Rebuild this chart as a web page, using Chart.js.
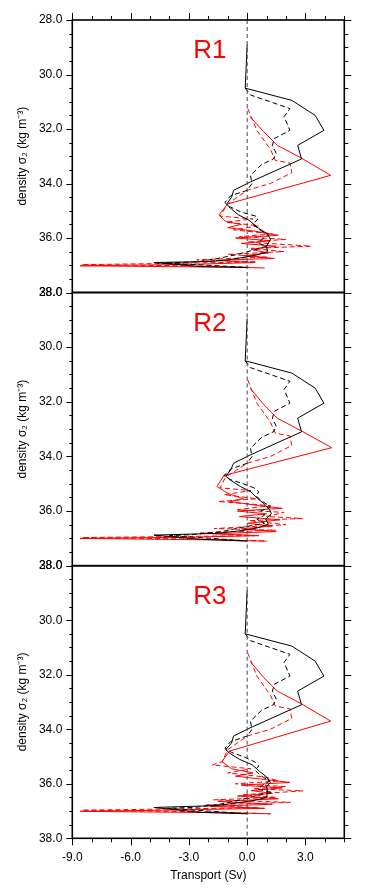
<!DOCTYPE html>
<html><head><meta charset="utf-8">
<script src="https://cdn.jsdelivr.net/npm/chart.js@4"></script>
<style>
html,body{margin:0;padding:0;background:#fff;}
#wrap{position:relative;width:365px;height:895px;overflow:hidden;}
canvas{position:absolute;left:0;top:0;}
</style></head><body>
<div id="wrap">
<canvas id="c1" width="365" height="895"></canvas>
<canvas id="c2" width="365" height="895"></canvas>
<canvas id="c3" width="365" height="895"></canvas>
</div>
<script>
// ---------- data ----------
const panelNames = ['R1', 'R2', 'R3'];
const xTickValues = [-9, -6, -3, 0, 3];
const yTickValues = [28, 30, 32, 34, 36, 38];
const zeroLineSigma = [28, 38];
const zeroLineSv = [0, 0];

// R1
const r1BlackSolidSigma = [28.9, 30.5, 30.95, 31.5, 32.05, 32.6, 33.1, 33.95, 34.25, 34.5, 34.75, 34.85, 35.15, 35.35, 35.65, 35.85, 36.05, 36.3, 36.5, 36.62, 36.7, 36.8, 36.86, 36.9, 37.05, 37.08];
const r1BlackSolidSv    = [0.0, -0.1, 2.3, 3.5, 3.95, 2.6, 2.8, 0.15, -0.7, -0.8, -1.05, -0.95, -0.45, 0.1, 0.6, 1.05, 1.2, 1.0, 1.05, 0.5, -0.1, -0.95, -1.8, -4.8, -2.4, 0.0];
const r1BlackDashSigma  = [30.5, 30.75, 31.25, 31.55, 32.05, 32.35, 32.6, 32.9, 33.1, 33.3, 33.7, 34.0, 34.25, 34.45, 34.7, 34.85, 35.05, 35.2, 35.3, 35.5, 35.7, 35.9, 36.05, 36.2, 36.3, 36.45, 36.6, 36.75, 36.88, 36.92, 37.0, 37.08];
const r1BlackDashSv     = [-0.1, 0.17, 2.2, 1.9, 2.2, 1.4, 1.3, 1.5, 1.35, 0.75, 0.17, 0.25, 0.0, -0.85, -1.15, -0.9, -0.3, 0.45, 0.55, 0.3, 0.65, 1.1, 0.75, 0.6, 1.0, 0.3, -0.5, -1.5, -2.6, -4.2, -2.0, 0.0];
const r1RedSolidSigma   = [31.55, 32.1, 32.6, 33.05, 33.7, 34.75, 35.15, 35.4, 35.5, 35.62, 35.75, 35.9, 36.0, 36.1, 36.2, 36.3, 36.42, 36.55, 36.65, 36.75, 36.82, 36.9, 36.97, 37.02, 37.07, 37.1];
const r1RedSolidSv      = [0.15, 0.85, 1.55, 2.75, 4.3, -1.0, -1.45, -1.1, -0.3, -1.0, 0.4, 1.6, -0.6, 1.2, -0.3, 1.5, 0.2, 1.1, -0.2, 1.4, -1.6, 0.4, -3.0, -8.6, -1.0, 0.9];
const r1RedDashSigma    = [31.25, 32.05, 32.75, 33.15, 33.25, 33.6, 34.0, 34.25, 34.75, 35.2, 35.3, 35.42, 35.55, 35.7, 35.85, 35.95, 36.05, 36.15, 36.3, 36.38, 36.5, 36.6, 36.7, 36.8, 36.88, 36.98, 37.03, 37.08];
const r1RedDashSv       = [0.03, 0.5, 1.2, 1.45, 2.2, 2.3, 1.2, 0.0, -1.0, -1.4, 0.3, -1.1, 0.6, -0.7, 1.3, -0.4, 2.0, 0.0, 3.3, 0.2, 1.9, -1.0, 1.0, -2.6, 0.5, -8.5, -2.0, 0.3];

// R2
const r2BlackSolidSigma = [28.95, 30.5, 30.95, 31.5, 32.05, 32.6, 33.1, 33.95, 34.25, 34.5, 34.72, 34.85, 35.1, 35.3, 35.55, 35.75, 35.95, 36.1, 36.3, 36.48, 36.62, 36.72, 36.82, 36.88, 37.03, 37.1];
const r2BlackSolidSv    = [0.0, -0.1, 2.3, 3.5, 3.95, 2.6, 2.8, 0.15, -0.7, -0.85, -1.1, -0.9, -0.35, 0.2, 0.55, 0.9, 1.15, 1.25, 0.95, 1.1, 0.5, -0.3, -1.7, -4.8, -2.5, 0.0];
const r2BlackDashSigma  = [30.5, 30.75, 31.25, 31.55, 32.05, 32.35, 32.6, 32.9, 33.1, 33.3, 33.7, 34.0, 34.25, 34.45, 34.7, 34.85, 35.0, 35.15, 35.3, 35.45, 35.65, 35.85, 36.0, 36.15, 36.3, 36.45, 36.6, 36.75, 36.86, 36.9, 37.0, 37.1];
const r2BlackDashSv     = [-0.1, 0.17, 2.2, 1.9, 2.2, 1.4, 1.3, 1.5, 1.35, 0.75, 0.17, 0.25, 0.0, -0.8, -1.2, -0.85, -0.2, 0.35, 0.6, 0.45, 0.8, 1.2, 0.7, 0.9, 0.5, 0.9, -0.3, -1.3, -2.8, -4.0, -1.8, 0.0];
const r2RedSolidSigma   = [31.5, 32.1, 32.6, 33.05, 33.68, 34.7, 35.1, 35.35, 35.55, 35.65, 35.8, 35.9, 36.0, 36.1, 36.2, 36.32, 36.45, 36.55, 36.65, 36.75, 36.83, 36.9, 36.96, 37.0, 37.06, 37.1];
const r2RedSolidSv      = [0.15, 0.85, 1.55, 2.75, 4.35, -1.2, -1.55, -1.0, -0.2, -0.9, 0.6, 1.8, -0.5, 1.0, -0.4, 1.7, 0.0, 1.3, -0.3, 1.5, -1.8, 0.6, -3.2, -8.6, -1.2, 1.0];
const r2RedDashSigma    = [31.2, 32.05, 32.75, 33.15, 33.25, 33.6, 34.0, 34.25, 34.75, 35.15, 35.25, 35.4, 35.55, 35.65, 35.8, 35.95, 36.05, 36.2, 36.27, 36.35, 36.5, 36.64, 36.7, 36.8, 36.9, 36.97, 37.03, 37.1];
const r2RedDashSv       = [0.03, 0.5, 1.2, 1.45, 2.2, 2.3, 1.2, 0.0, -1.1, -1.4, 0.2, -1.2, 0.5, -1.5, 1.2, -0.5, 1.9, 1.0, 2.85, 0.1, 2.0, -1.7, 1.46, -2.4, 0.4, -8.5, -2.2, 0.95];

// R3
const r3BlackSolidSigma = [28.9, 30.5, 30.95, 31.5, 32.05, 32.6, 33.1, 33.95, 34.25, 34.5, 34.75, 34.88, 35.1, 35.3, 35.55, 35.75, 35.95, 36.1, 36.3, 36.5, 36.62, 36.7, 36.8, 36.87, 37.05, 37.1];
const r3BlackSolidSv    = [0.0, -0.1, 2.3, 3.5, 3.95, 2.6, 2.8, 0.15, -0.7, -0.8, -1.1, -0.9, -0.4, 0.25, 0.65, 1.0, 1.2, 1.0, 1.05, 1.0, 0.3, -0.5, -1.6, -4.8, -2.4, 0.0];
const r3BlackDashSigma  = [30.5, 30.75, 31.25, 31.55, 32.05, 32.35, 32.6, 32.9, 33.1, 33.3, 33.7, 34.0, 34.25, 34.45, 34.7, 34.85, 35.0, 35.2, 35.35, 35.5, 35.7, 35.9, 36.05, 36.2, 36.32, 36.45, 36.6, 36.75, 36.86, 36.9, 37.0, 37.1];
const r3BlackDashSv     = [-0.1, 0.17, 2.2, 1.9, 2.2, 1.4, 1.3, 1.5, 1.35, 0.75, 0.17, 0.25, 0.0, -0.85, -1.15, -0.8, -0.2, 0.4, 0.6, 0.4, 0.7, 1.15, 0.8, 0.55, 1.3, 0.4, -0.4, -1.4, -2.6, -4.1, -2.0, 0.0];
const r3RedSolidSigma   = [31.5, 32.1, 32.6, 33.05, 33.7, 34.8, 35.19, 35.45, 35.6, 35.72, 35.85, 35.95, 36.05, 36.15, 36.25, 36.35, 36.45, 36.55, 36.65, 36.75, 36.83, 36.9, 36.96, 37.01, 37.06, 37.1];
const r3RedSolidSv      = [0.15, 0.85, 1.55, 2.75, 4.3, -0.9, -1.3, -0.8, 0.3, -0.6, 1.0, 2.2, -0.3, 1.8, 0.2, 1.3, -0.5, 1.6, -1.5, 1.3, -1.9, 0.9, -3.5, -8.6, -1.3, 1.2];
const r3RedDashSigma    = [31.2, 32.05, 32.75, 33.15, 33.25, 33.6, 34.0, 34.25, 34.75, 35.2, 35.31, 35.45, 35.6, 35.75, 35.9, 36.0, 36.1, 36.18, 36.26, 36.4, 36.5, 36.59, 36.68, 36.78, 36.88, 36.97, 37.03, 37.1];
const r3RedDashSv       = [0.03, 0.5, 1.2, 1.45, 2.2, 2.3, 1.2, 0.0, -1.0, -1.3, -1.8, 0.2, -1.0, 0.9, 1.63, -0.6, 2.0, 0.3, 2.88, -0.2, 1.5, -1.72, 2.23, -2.2, 0.6, -8.5, -2.0, 1.2];

// ---------- drawing ----------
Chart.defaults.font.family = '"Liberation Sans", Arial, Helvetica, sans-serif';
Chart.defaults.color = '#000';

const W = 365, H = 895;
const plotLeft = 72.3, plotRight = 344.3;
const panelBounds = [[20, 292.5], [292.5, 565.7], [565.7, 838.3]];

function pts(sig, sv) { return sig.map((s, i) => ({ x: sv[i], y: s })); }

const framePlugin = {
  id: 'framePlugin',
  afterDatasetsDraw(chart, args, opts) {
    const { ctx, chartArea: a, scales } = chart;
    const xs = scales.x, ys = scales.y;
    ctx.save();
    ctx.strokeStyle = '#000';
    ctx.lineWidth = 1;
    for (let k = 0; k <= 20; k++) {
      const v = 28 + k * 0.5;
      const py = Math.round(ys.getPixelForValue(v)) + 0.5;
      const major = k % 4 === 0;
      ctx.beginPath();
      if (major) { ctx.moveTo(a.left - 6, py); ctx.lineTo(a.left, py); ctx.moveTo(a.right, py); ctx.lineTo(a.right + 7, py); }
      else { ctx.moveTo(a.left - 3, py); ctx.lineTo(a.left, py); ctx.moveTo(a.right, py); ctx.lineTo(a.right + 4, py); }
      ctx.stroke();
    }
    for (let v = -9; v <= 5; v++) {
      const px = Math.round(xs.getPixelForValue(v)) + 0.5;
      const major = v % 3 === 0;
      const len = major ? 7 : 4;
      ctx.beginPath();
      if (opts.topTicks) { ctx.moveTo(px, a.top); ctx.lineTo(px, a.top - len); }
      if (opts.bottomTicks) { ctx.moveTo(px, a.bottom); ctx.lineTo(px, a.bottom + len); }
      ctx.stroke();
    }
    ctx.lineWidth = 1.6;
    ctx.strokeRect(a.left, a.top, a.right - a.left, a.bottom - a.top);
    ctx.fillStyle = '#ff0000';
    ctx.font = '26px "Liberation Sans", Arial, sans-serif';
    ctx.textBaseline = 'alphabetic';
    ctx.fillText(opts.label, xs.getPixelForValue(-2.78), a.top + 38);
    ctx.restore();
  }
};

function makePanel(idx, canvasId, series) {
  const [top, bottom] = panelBounds[idx];
  const showX = idx === 2;
  const ds = [
    { data: pts(zeroLineSigma, zeroLineSv), borderColor: '#444', borderWidth: 1, borderDash: [4, 3] },
    { data: pts(series.bsSig, series.bsSv), borderColor: '#000', borderWidth: 1 },
    { data: pts(series.bdSig, series.bdSv), borderColor: '#000', borderWidth: 1, borderDash: [5, 3] },
    { data: pts(series.rsSig, series.rsSv), borderColor: '#ff0000', borderWidth: 1 },
    { data: pts(series.rdSig, series.rdSv), borderColor: '#ff0000', borderWidth: 1, borderDash: [5, 3] }
  ].map(d => Object.assign({ showLine: true, pointRadius: 0, pointHoverRadius: 0, fill: false, tension: 0 }, d));

  new Chart(document.getElementById(canvasId), {
    type: 'scatter',
    data: { datasets: ds },
    options: {
      responsive: false,
      animation: false,
      devicePixelRatio: 1,
      events: [],
      layout: { padding: { left: 0, right: W - plotRight, top: top, bottom: showX ? 0 : H - bottom } },
      plugins: { legend: { display: false }, tooltip: { enabled: false }, framePlugin: { label: panelNames[idx], topTicks: idx === 0, bottomTicks: showX } },
      scales: {
        x: {
          type: 'linear', min: -9, max: 5, display: showX,
          afterBuildTicks: s => { s.ticks = xTickValues.map(v => ({ value: v })); },
          afterFit: s => { s.height = showX ? H - panelBounds[2][1] : 0; },
          grid: { display: false, drawTicks: false },
          border: { display: false },
          ticks: { padding: 12, font: { size: 12 }, color: '#000', maxRotation: 0, callback: v => v.toFixed(1) },
          title: { display: true, text: 'Transport (Sv)', font: { size: 12 }, color: '#000', padding: { top: 0, bottom: 12 } }
        },
        y: {
          type: 'linear', min: 28, max: 38, reverse: true, position: 'left',
          afterBuildTicks: s => { s.ticks = yTickValues.map(v => ({ value: v })); },
          afterFit: s => { s.width = plotLeft; },
          grid: { display: false, drawTicks: false },
          border: { display: false },
          ticks: { padding: 10, font: { size: 12 }, color: '#000', callback: v => v.toFixed(1) },
          title: { display: true, text: 'density σ₂ (kg m⁻³)', font: { size: 12 }, color: '#000', padding: { top: 15, bottom: 0 } }
        }
      }
    },
    plugins: [framePlugin]
  });
}

makePanel(0, 'c1', { bsSig: r1BlackSolidSigma, bsSv: r1BlackSolidSv, bdSig: r1BlackDashSigma, bdSv: r1BlackDashSv, rsSig: r1RedSolidSigma, rsSv: r1RedSolidSv, rdSig: r1RedDashSigma, rdSv: r1RedDashSv });
makePanel(1, 'c2', { bsSig: r2BlackSolidSigma, bsSv: r2BlackSolidSv, bdSig: r2BlackDashSigma, bdSv: r2BlackDashSv, rsSig: r2RedSolidSigma, rsSv: r2RedSolidSv, rdSig: r2RedDashSigma, rdSv: r2RedDashSv });
makePanel(2, 'c3', { bsSig: r3BlackSolidSigma, bsSv: r3BlackSolidSv, bdSig: r3BlackDashSigma, bdSv: r3BlackDashSv, rsSig: r3RedSolidSigma, rsSv: r3RedSolidSv, rdSig: r3RedDashSigma, rdSv: r3RedDashSv });
</script>
</body></html>
